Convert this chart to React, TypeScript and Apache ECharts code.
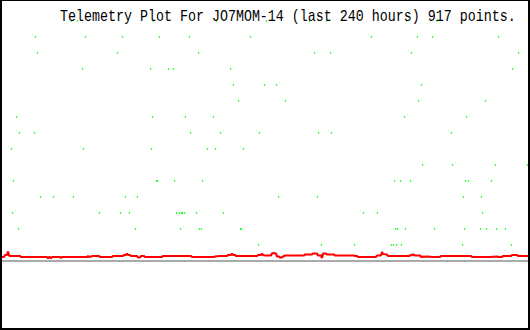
import React, { useEffect, useRef } from "react";
import * as echarts from "echarts";

const TITLE = "Telemetry Plot For JO7MOM-14 (last 240 hours) 917 points.";
const HOURS_MAX = 240;

// green channel: quantized levels, [hours, level]
const greenLevel15 = [32.38, 35.09, 69.51, 98.04, 120.68, 140.15, 147.85, 184.08, 197.66];
const greenLevel14 = [16.08, 38.72, 55.47, 72.23, 85.81, 113.43, 168.23, 189.06, 195.85, 225.74];
const greenLevel13 = [16.98, 53.21, 89.89, 142.42, 149.66, 186.34, 234.79];
const greenLevel12 = [37.36, 68.15, 76.3, 78.57, 104.38, 232.08];
const greenLevel11 = [105.74, 119.77, 125.21, 190.87];
const greenLevel10 = [108.0, 129.28, 189.51, 219.85];
const greenLevel9 = [7.47, 69.06, 84.0, 96.68, 183.17, 211.25];
const greenLevel8 = [8.83, 15.62, 86.26, 99.85, 117.51, 144.23, 150.11, 204.45, 239.32];
const greenLevel7 = [5.21, 37.81, 68.6, 93.96, 97.58, 110.26];
const greenLevel6 = [191.32, 204.91, 224.38, 238.87];
const greenLevel5 = [6.11, 70.87, 71.32, 79.02, 91.7, 178.64, 181.36, 185.89, 210.79, 212.15, 222.57];
const greenLevel4 = [18.34, 24.23, 33.28, 56.83, 62.26, 126.11, 143.77, 209.89, 218.04];
const greenLevel3 = [5.66, 45.06, 54.57, 58.64, 79.92, 81.28, 82.19, 82.64, 83.55, 88.98, 101.21, 164.6, 170.94, 218.49];
const greenLevel2 = [8.38, 61.36, 81.74, 90.34, 91.25, 108.91, 109.36, 179.09, 180.0, 183.62, 196.75, 210.34, 217.58, 220.3, 224.83, 228.91];
const greenLevel1 = [117.06, 145.58, 160.53, 177.28, 178.19, 179.55, 181.81, 209.43, 231.62];

const greenLevels: [number, number[]][] = [
  [15, greenLevel15], [14, greenLevel14], [13, greenLevel13], [12, greenLevel12],
  [11, greenLevel11], [10, greenLevel10], [9, greenLevel9], [8, greenLevel8],
  [7, greenLevel7], [6, greenLevel6], [5, greenLevel5], [4, greenLevel4],
  [3, greenLevel3], [2, greenLevel2], [1, greenLevel1],
];

// red channel
const redHours = [
  0, 1.81, 2.26, 3.17, 3.62, 4.08, 4.53, 9.06, 9.51, 21.28, 21.74, 22.19, 22.64, 23.09, 23.55,
  27.17, 27.62, 28.08, 39.4, 39.85, 40.3, 42.11, 44.83, 45.28, 50.72, 51.17, 55.7, 56.15, 57.06,
  57.51, 57.96, 58.87, 59.32, 62.04, 62.49, 63.4, 63.85, 65.21, 65.66, 73.36, 73.81, 86.49, 86.94,
  96.91, 97.36, 99.62, 102.79, 103.25, 104.6, 105.06, 105.51, 106.42, 106.87, 116.38, 116.83,
  118.19, 118.64, 119.09, 120.0, 122.72, 123.17, 123.62, 124.98, 125.43, 126.34, 126.79, 127.7,
  128.15, 129.06, 137.66, 138.11, 141.28, 141.74, 143.55, 144.0, 145.36, 145.81, 146.26, 147.62,
  148.08, 151.25, 151.7, 160.3, 160.75, 161.66, 162.11, 170.26, 170.72, 172.53, 172.98, 173.43,
  175.25, 175.7, 185.21, 185.66, 187.02, 187.92, 190.19, 190.64, 193.81, 195.62, 199.25, 199.7,
  213.28, 213.74, 221.89, 225.06, 225.51, 227.32, 227.77, 231.4, 231.85, 234.11, 234.57, 240,
];
const redValues = [
  0.25, 0.25, 0.375, 0.375, 0.594, 0.344, 0.313, 0.313, 0.25, 0.25, 0.156, 0.25, 0.25, 0.156, 0.25,
  0.25, 0.188, 0.25, 0.25, 0.313, 0.25, 0.313, 0.313, 0.25, 0.25, 0.313, 0.313, 0.375, 0.375,
  0.469, 0.375, 0.375, 0.313, 0.313, 0.219, 0.219, 0.313, 0.313, 0.25, 0.25, 0.313, 0.313, 0.25,
  0.25, 0.281, 0.313, 0.313, 0.375, 0.375, 0.469, 0.375, 0.375, 0.313, 0.313, 0.375,
  0.375, 0.469, 0.375, 0.344, 0.344, 0.469, 0.5, 0.469, 0.281, 0.281, 0.219, 0.219,
  0.281, 0.344, 0.344, 0.406, 0.406, 0.469, 0.469, 0.344, 0.344, 0.188, 0.469, 0.469,
  0.406, 0.406, 0.344, 0.344, 0.313, 0.313, 0.25, 0.25, 0.344, 0.344, 0.563, 0.438,
  0.406, 0.313, 0.313, 0.344, 0.406, 0.344, 0.344, 0.263, 0.281, 0.25, 0.25, 0.313,
  0.313, 0.25, 0.25, 0.281, 0.25, 0.25, 0.313, 0.313, 0.375, 0.375, 0.313, 0.313,
];

export default function App() {
  const ref = useRef<HTMLDivElement>(null);
  useEffect(() => {
    if (!ref.current) return;
    const chart = echarts.init(ref.current, null, { renderer: "svg" });
    const greenData: number[][] = [];
    greenLevels.forEach(([lvl, hs]) => hs.forEach((h) => greenData.push([h, lvl])));
    const redData = redHours.map((h, i) => [h, redValues[i]]);
    chart.setOption({
      animation: false,
      backgroundColor: "#ffffff",
      grid: { left: 0, right: 0, top: 5, bottom: 69 },
      xAxis: { type: "value", min: 0, max: HOURS_MAX, show: false },
      yAxis: { type: "value", min: 0, max: 16, show: false },
      series: [
        {
          type: "line",
          data: [[0, 0], [HOURS_MAX, 0]],
          symbol: "none",
          lineStyle: { color: "#aaaaaa", width: 2 },
          silent: true,
          z: 1,
        },
        {
          type: "scatter",
          data: greenData,
          symbol: "rect",
          symbolSize: [1.2, 2],
          itemStyle: { color: "#00ff00" },
          silent: true,
          z: 2,
        },
        {
          type: "line",
          data: redData,
          symbol: "none",
          lineStyle: { color: "#ff0000", width: 2.2 },
          silent: true,
          z: 3,
        },
      ],
      graphic: [
        {
          type: "text",
          x: 60,
          y: 17,
          scaleX: 0.833,
          z: 10,
          style: {
            text: TITLE,
            fill: "#000000",
            font: "16px 'Liberation Mono'",
            align: "left",
            verticalAlign: "middle",
          },
        },
        { type: "line", z: 20, shape: { x1: 0, y1: 0.5, x2: 530, y2: 0.5 }, style: { stroke: "#000", lineWidth: 1 } },
        { type: "line", z: 20, shape: { x1: 1, y1: 0, x2: 1, y2: 330 }, style: { stroke: "#000", lineWidth: 2 } },
        { type: "line", z: 20, shape: { x1: 529, y1: 0, x2: 529, y2: 330 }, style: { stroke: "#000", lineWidth: 2 } },
        { type: "line", z: 20, shape: { x1: 0, y1: 329, x2: 530, y2: 329 }, style: { stroke: "#000", lineWidth: 2 } },
      ],
    });
    return () => chart.dispose();
  }, []);
  return (
    <div
      ref={ref}
      style={{ position: "absolute", left: 0, top: 0, width: 530, height: 330 }}
    />
  );
}
